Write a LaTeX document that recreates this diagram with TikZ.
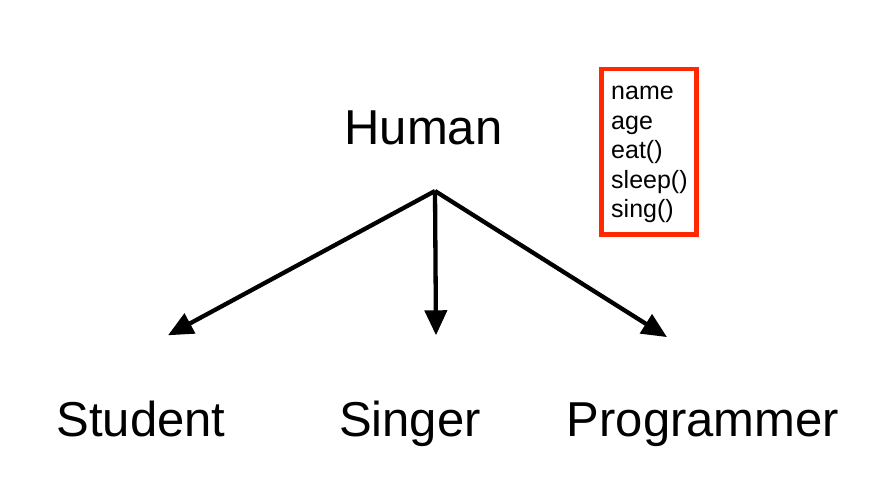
\documentclass[tikz,border=0pt]{standalone}
\usepackage{fontspec}
\setmainfont{Liberation Sans}
\usetikzlibrary{arrows.meta,positioning}
\definecolor{boxRed}{RGB}{255,40,0}
\tikzset{%
  >={Triangle[length=25pt,width=22pt]},
  % Specifications for style of nodes:
     base/.style = {inner sep=0pt, font=\fontsize{49}{56}\selectfont},
    className/.style = {base, anchor=base},
    memberBox/.style = {rectangle, draw=boxRed, line width=4.5pt,
                           minimum width=95pt, minimum height=165pt, anchor=north west},
    memberList/.style = {base, align=left, anchor=north west,
                           font=\fontsize{25}{29.5}\selectfont},
    inherit/.style = {->, line width=4.3pt},
}
\begin{document}
\begin{tikzpicture}[x=1pt, y=-1pt]
  \useasboundingbox (0,0) rectangle (874,476);
  % Specification of nodes (position, etc.)
  \node (human)      [className] at (423.5,144) {Human};
  \node (student)    [className] at (141,436)   {Student};
  \node (singer)     [className] at (410,436)   {Singer};
  \node (programmer) [className] at (703,436)   {Programmer};

  \node (box)     [memberBox] at (599,67) {};
  \node (members) [memberList, below right=19pt and 12pt of box.north west]
                  {name\\age\\eat()\\sleep()\\sing()};

  % end points of the arrows
  \coordinate (fork)            at ([xshift=11.5pt,yshift=-47pt]human.base);
  \coordinate (studentTip)      at ([xshift=27pt,yshift=65pt]student.north);
  \coordinate (singerTip)       at ([xshift=26pt,yshift=65pt]singer.north);
  \coordinate (programmerTip)   at ([xshift=-36pt,yshift=65pt]programmer.north);

  % Specification of lines between nodes specified above
  \draw[inherit]   (fork) to (studentTip);
  \draw[inherit]   (fork) to (singerTip);
  \draw[inherit]   (fork) to (programmerTip);

\end{tikzpicture}
\end{document}
